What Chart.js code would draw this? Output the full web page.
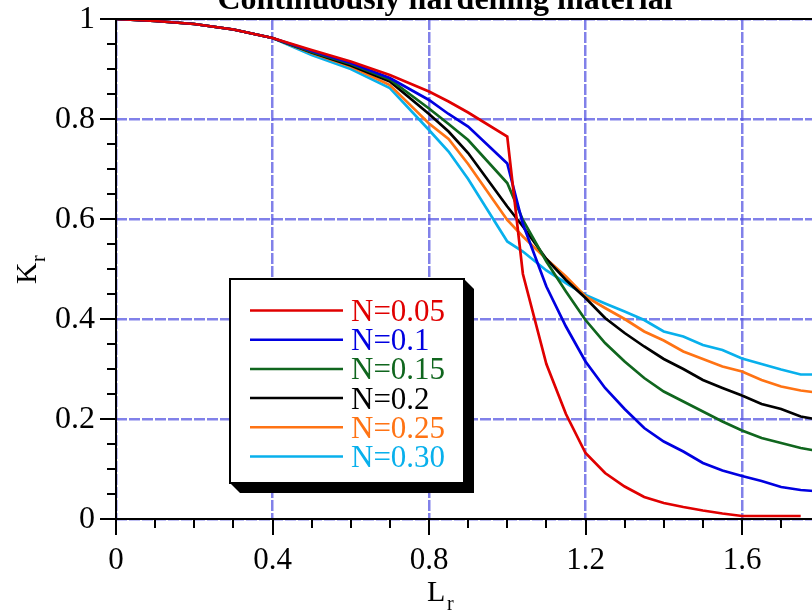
<!DOCTYPE html>
<html>
<head>
<meta charset="utf-8">
<script src="https://cdn.jsdelivr.net/npm/chart.js@4.4.0/dist/chart.umd.min.js"></script>
<style>
html, body { margin: 0; padding: 0; background: #fff; overflow: hidden; width: 812px; height: 616px; }
#wrap { position: absolute; left: 0; top: 0; width: 830px; height: 616px; }
</style>
</head>
<body>
<div id="wrap"><canvas id="chart"></canvas></div>
<script>
// L_r positions shared by all curves
const lrValues = [0, 0.1, 0.2, 0.3, 0.4, 0.5, 0.6, 0.7, 0.8, 0.85, 0.9, 1.0, 1.04, 1.1, 1.15, 1.2, 1.25, 1.3, 1.35, 1.4, 1.45, 1.5, 1.55, 1.6, 1.65, 1.7, 1.75, 1.8];

// K_r for each hardening exponent
const krN005 = [1, 0.996, 0.99, 0.979, 0.962, 0.938, 0.915, 0.888, 0.855, 0.835, 0.813, 0.765, 0.49, 0.31, 0.21, 0.132, 0.092, 0.065, 0.044, 0.032, 0.024, 0.017, 0.011, 0.006, 0.006, 0.006, 0.006, null];
const krN010 = [1, 0.996, 0.99, 0.979, 0.962, 0.936, 0.912, 0.882, 0.838, 0.81, 0.785, 0.711, 0.59, 0.465, 0.385, 0.315, 0.262, 0.22, 0.182, 0.155, 0.135, 0.112, 0.097, 0.086, 0.076, 0.064, 0.058, 0.055];
const krN015 = [1, 0.996, 0.99, 0.979, 0.962, 0.934, 0.91, 0.879, 0.821, 0.79, 0.758, 0.672, 0.598, 0.515, 0.455, 0.398, 0.352, 0.315, 0.282, 0.255, 0.235, 0.215, 0.195, 0.177, 0.162, 0.152, 0.142, 0.135];
const krN020 = [1, 0.996, 0.99, 0.979, 0.962, 0.933, 0.907, 0.875, 0.81, 0.775, 0.732, 0.625, 0.585, 0.52, 0.478, 0.442, 0.402, 0.372, 0.345, 0.32, 0.3, 0.278, 0.262, 0.247, 0.23, 0.22, 0.205, 0.198];
const krN025 = [1, 0.996, 0.99, 0.979, 0.962, 0.932, 0.905, 0.868, 0.791, 0.76, 0.71, 0.598, 0.565, 0.52, 0.485, 0.445, 0.422, 0.4, 0.375, 0.357, 0.335, 0.32, 0.305, 0.295, 0.278, 0.265, 0.257, 0.252];
const krN030 = [1, 0.996, 0.99, 0.979, 0.962, 0.928, 0.9, 0.862, 0.778, 0.735, 0.68, 0.555, 0.535, 0.497, 0.472, 0.448, 0.431, 0.415, 0.398, 0.375, 0.365, 0.348, 0.338, 0.321, 0.31, 0.299, 0.289, 0.289];

const seriesLabels = ["N=0.05", "N=0.1", "N=0.15", "N=0.2", "N=0.25", "N=0.30"];
const seriesValues = [krN005, krN010, krN015, krN020, krN025, krN030];
const seriesColors = ["#e00000", "#0000e0", "#10661e", "#000000", "#ff7314", "#08b0ec"];

const xTickValues = [0, 0.4, 0.8, 1.2, 1.6];
const yTickValues = [0, 0.2, 0.4, 0.6, 0.8, 1];

const SERIF = "'Liberation Serif', 'Times New Roman', serif";

const datasets = seriesValues.map(function(vals, i){
    return {
        label: seriesLabels[i],
        data: lrValues.map(function(x, j){ return {x: x, y: vals[j]}; }).filter(function(p){ return p.y !== null; }),
        borderColor: seriesColors[i],
        borderWidth: 2.7,
        pointRadius: 0,
        showLine: true,
        fill: false,
        tension: 0
    };
});

// axes frame, minor ticks, y labels, titles and boxed legend
const decorPlugin = {
    id: "decor",
    afterDraw(chart){
        const ctx = chart.ctx;
        const xs = chart.scales.x, ys = chart.scales.y;
        const left = xs.left, bottom = ys.bottom, top = ys.top, right = xs.right;
        ctx.save();
        ctx.strokeStyle = "#000";
        ctx.lineWidth = 2;
        ctx.beginPath();
        ctx.moveTo(left, top); ctx.lineTo(left, bottom + 1);
        ctx.moveTo(left - 1, bottom); ctx.lineTo(right, bottom);
        ctx.moveTo(left - 1, top); ctx.lineTo(right, top);
        ctx.stroke();

        // x ticks
        ctx.beginPath();
        for (let k = 0; k <= 18; k++){
            const px = Math.round(xs.getPixelForValue(k / 10));
            const major = (k % 4 === 0);
            ctx.moveTo(px, bottom); ctx.lineTo(px, bottom + (major ? 16 : 9));
        }
        // y ticks
        for (let k = 0; k <= 20; k++){
            const py = Math.round(ys.getPixelForValue(k / 20));
            const major = (k % 4 === 0);
            ctx.moveTo(left, py); ctx.lineTo(left - (major ? 16 : 9), py);
        }
        ctx.stroke();

        // y tick labels
        ctx.fillStyle = "#000";
        ctx.font = "32px " + SERIF;
        ctx.textAlign = "right";
        ctx.textBaseline = "middle";
        yTickValues.forEach(function(v){
            ctx.fillText(String(v), left - 21, ys.getPixelForValue(v) + 1);
        });

        // title, cut by the top edge
        ctx.font = "bold 32px " + SERIF;
        ctx.textAlign = "center";
        ctx.textBaseline = "alphabetic";
        ctx.fillText("Continuously hardening material", 445, 9);

        // x axis title L_r
        ctx.font = "30px " + SERIF;
        ctx.textAlign = "left";
        ctx.fillText("L", 427, 601);
        ctx.font = "20px " + SERIF;
        ctx.fillText("r", 447, 610);

        // y axis title K_r
        ctx.save();
        ctx.translate(36, 284);
        ctx.rotate(-Math.PI / 2);
        ctx.font = "30px " + SERIF;
        ctx.fillText("K", 0, 0);
        ctx.font = "20px " + SERIF;
        ctx.fillText("r", 22, 9);
        ctx.restore();

        // legend box with shadow
        const bx = 230, by = 279, bw = 234, bh = 204;
        ctx.fillStyle = "#000";
        ctx.beginPath();
        ctx.moveTo(bx + bw, by);
        ctx.lineTo(bx + bw + 10, by + 10);
        ctx.lineTo(bx + bw + 10, by + bh + 10);
        ctx.lineTo(bx + 10, by + bh + 10);
        ctx.lineTo(bx, by + bh);
        ctx.closePath();
        ctx.fill();
        ctx.fillStyle = "#fff";
        ctx.fillRect(bx, by, bw, bh);
        ctx.lineWidth = 2;
        ctx.strokeStyle = "#000";
        ctx.strokeRect(bx, by, bw, bh);

        ctx.font = "31px " + SERIF;
        ctx.textAlign = "left";
        ctx.textBaseline = "alphabetic";
        chart.data.datasets.forEach(function(ds, i){
            const ry = 310.5 + i * 29.2;
            ctx.strokeStyle = ds.borderColor;
            ctx.lineWidth = 2.5;
            ctx.beginPath();
            ctx.moveTo(250, ry); ctx.lineTo(343, ry);
            ctx.stroke();
            ctx.fillStyle = ds.borderColor;
            ctx.fillText(ds.label, 351, ry + 10.5);
        });
        ctx.restore();
    }
};

const gridColor = "rgba(80, 80, 225, 0.72)";

new Chart(document.getElementById("chart"), {
    type: "scatter",
    data: { datasets: datasets },
    options: {
        responsive: true,
        maintainAspectRatio: false,
        animation: false,
        layout: { padding: { left: 0, top: 19, right: 9.75, bottom: 0 } },
        plugins: { legend: { display: false }, title: { display: false }, tooltip: { enabled: false } },
        scales: {
            x: {
                type: "linear",
                min: 0,
                max: 1.8,
                afterBuildTicks: function(s){ s.ticks = xTickValues.map(function(v){ return {value: v}; }); },
                afterFit: function(s){ s.height = 97; },
                ticks: {
                    color: "#000",
                    font: { family: SERIF, size: 31 },
                    padding: 23,
                    maxRotation: 0,
                    callback: function(v){ return String(v); }
                },
                grid: { color: gridColor, lineWidth: 2.5, drawTicks: false },
                border: { display: false, dash: [11, 2] }
            },
            y: {
                type: "linear",
                min: 0,
                max: 1,
                afterBuildTicks: function(s){ s.ticks = yTickValues.map(function(v){ return {value: v}; }); },
                afterFit: function(s){ s.width = 116; },
                ticks: { display: false },
                grid: { color: gridColor, lineWidth: 2.5, drawTicks: false },
                border: { display: false, dash: [11, 2] }
            }
        }
    },
    plugins: [decorPlugin]
});
</script>
</body>
</html>
